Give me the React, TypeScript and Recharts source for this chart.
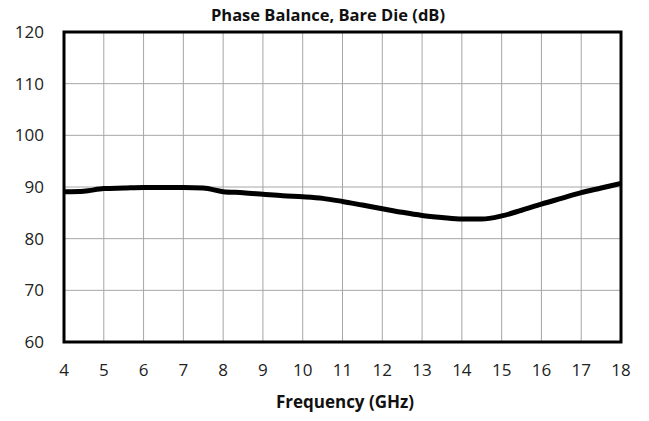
import { LineChart, Line, XAxis, YAxis, CartesianGrid, ReferenceArea } from "recharts";

// ── Data ─────────────────────────────────────────────────────────────────────

const FREQ_GHZ = [
  4, 4.5, 5, 5.5, 6, 6.5, 7, 7.5, 8, 8.5, 9, 9.5, 10, 10.5, 11, 11.5, 12, 12.5,
  13, 13.5, 14, 14.5, 15, 15.5, 16, 16.5, 17, 17.5, 18,
];

const PHASE_BALANCE = [
  89.1, 89.2, 89.7, 89.8, 89.9, 89.9, 89.9, 89.8, 89.1, 88.9, 88.6, 88.3, 88.1,
  87.8, 87.2, 86.5, 85.8, 85.1, 84.5, 84.1, 83.8, 83.8, 84.4, 85.5, 86.7, 87.8,
  88.9, 89.8, 90.7,
];

const X_TICKS = [4, 5, 6, 7, 8, 9, 10, 11, 12, 13, 14, 15, 16, 17, 18];
const Y_TICKS = [60, 70, 80, 90, 100, 110, 120];

const data = FREQ_GHZ.map((f, i) => ({ freq: f, value: PHASE_BALANCE[i] }));

const FONT = "'Open Sans', sans-serif";
const tickStyle = { fill: "#222", fontSize: 17, fontFamily: FONT };

export default function App() {
  return (
    <div style={{ position: "relative", width: 649, height: 421, background: "#fff", fontFamily: FONT }}>
      <style>{`body{margin:0}`}</style>
      <div
        style={{
          position: "absolute",
          left: 178,
          width: 300,
          top: 3,
          textAlign: "center",
          fontSize: 16.5,
          fontWeight: 700,
          color: "#111",
          whiteSpace: "nowrap",
        }}
      >
        Phase Balance, Bare Die (dB)
      </div>
      <LineChart
        width={649}
        height={421}
        data={data}
        margin={{ top: 32, right: 28, left: 0, bottom: 49 }}
      >
        <CartesianGrid stroke="#a6a6a6" strokeWidth={1} />
        <XAxis
          dataKey="freq"
          type="number"
          domain={[4, 18]}
          ticks={X_TICKS}
          interval={0}
          axisLine={false}
          tickLine={false}
          tick={tickStyle}
          tickMargin={16}
          height={30}
        />
        <YAxis
          type="number"
          domain={[60, 120]}
          ticks={Y_TICKS}
          interval={0}
          axisLine={false}
          tickLine={false}
          tick={tickStyle}
          tickMargin={14}
          width={64}
        />
        <ReferenceArea
          x1={4}
          x2={18}
          y1={60}
          y2={120}
          fill="none"
          stroke="#000"
          strokeWidth={3}
          ifOverflow="visible"
        />
        <Line
          type="monotone"
          dataKey="value"
          stroke="#000"
          strokeWidth={5}
          dot={false}
          isAnimationActive={false}
        />
      </LineChart>
      <div
        style={{
          position: "absolute",
          left: 195,
          width: 300,
          top: 390,
          textAlign: "center",
          fontSize: 17,
          fontWeight: 700,
          color: "#111",
          whiteSpace: "nowrap",
        }}
      >
        Frequency (GHz)
      </div>
    </div>
  );
}
